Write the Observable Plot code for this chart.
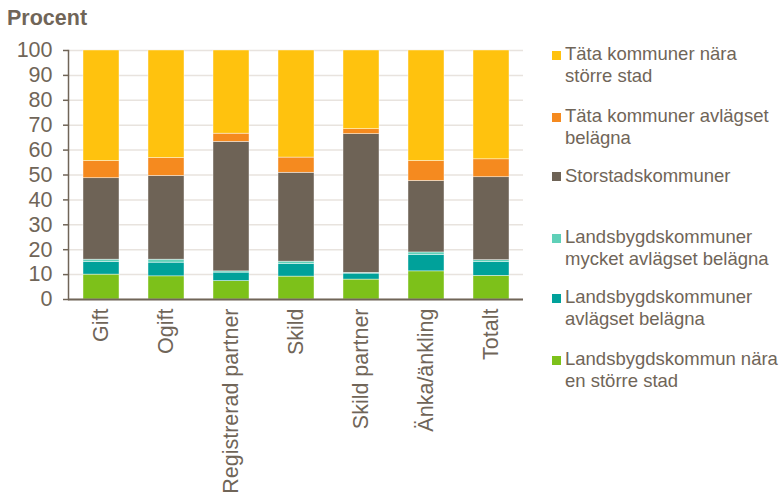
<!DOCTYPE html>
<html><head><meta charset="utf-8">
<script src="https://cdn.jsdelivr.net/npm/d3@7"></script>
<script src="https://cdn.jsdelivr.net/npm/@observablehq/plot@0.6"></script>
<style>
body{margin:0;background:#fff;font-family:"Liberation Sans",Arial,sans-serif;color:#706558;}
#wrap{position:relative;width:782px;height:495px;overflow:hidden}
#title{position:absolute;left:7px;top:8px;font-weight:bold;font-size:21.5px;line-height:20px}
#chart{position:absolute;left:0;top:30px}
.leg{position:absolute;left:552px;font-size:18.5px;line-height:21.5px;padding-left:13px;white-space:nowrap}
.sw{position:absolute;left:0;top:7.7px;width:9px;height:9px}
</style></head>
<body>
<div id="wrap">
<div id="title">Procent</div>
<div id="chart"></div>
<div id="legend"></div>
</div>
<script>
const categories = ["Gift","Ogift","Registrerad partner","Skild","Skild partner","Änka/änkling","Totalt"];
// series from bottom to top of the stack
const seriesNames = [
  "Landsbygdskommun nära en större stad",
  "Landsbygdskommuner avlägset belägna",
  "Landsbygdskommuner mycket avlägset belägna",
  "Storstadskommuner",
  "Täta kommuner avlägset belägna",
  "Täta kommuner nära större stad"
];
const seriesColors = ["#7dc11a","#00a19a","#5fd0b8","#6e6356","#f58a1f","#ffc20e"];
const landsbygdNara      = [10.0, 9.3, 7.4, 9.2, 8.0, 11.3, 9.5];
const landsbygdAvlagset  = [5.1, 5.5, 3.4, 5.1, 2.4, 6.6, 5.5];
const landsbygdMycket    = [0.9, 1.2, 0.5, 0.9, 0.3, 1.0, 0.8];
const storstad           = [32.7, 33.6, 52.0, 35.7, 55.7, 28.7, 33.3];
const tataAvlagset       = [6.9, 7.2, 3.3, 6.1, 2.0, 8.0, 7.2];
const tataNara           = [44.4, 43.2, 33.4, 43.0, 31.6, 44.4, 43.7];
const yTicks = [0,10,20,30,40,50,60,70,80,90,100];

// legend order (top to bottom) with line breaks
const legendItems = [
  {name: "Täta kommuner nära större stad", lines: ["Täta kommuner nära","större stad"], top: 43},
  {name: "Täta kommuner avlägset belägna", lines: ["Täta kommuner avlägset","belägna"], top: 105.4},
  {name: "Storstadskommuner", lines: ["Storstadskommuner"], top: 164.8},
  {name: "Landsbygdskommuner mycket avlägset belägna", lines: ["Landsbygdskommuner","mycket avlägset belägna"], top: 226.4},
  {name: "Landsbygdskommuner avlägset belägna", lines: ["Landsbygdskommuner","avlägset belägna"], top: 286.4},
  {name: "Landsbygdskommun nära en större stad", lines: ["Landsbygdskommun nära","en större stad"], top: 348}
];

const seriesValues = [landsbygdNara, landsbygdAvlagset, landsbygdMycket, storstad, tataAvlagset, tataNara];
const data = [];
seriesNames.forEach((s, i) => categories.forEach((c, j) => data.push({cat: c, series: s, value: seriesValues[i][j]})));

const ink = "#706558";
const plot = Plot.plot({
  width: 782,
  height: 465,
  marginLeft: 68,
  marginRight: 259,
  marginTop: 20,
  marginBottom: 196,
  style: {color: ink, fontFamily: '"Liberation Sans", Arial, sans-serif', fontSize: "21.5px", background: "transparent"},
  x: {domain: categories, paddingInner: 0.45, paddingOuter: 0.225, label: null},
  y: {domain: [0, 100], label: null},
  color: {domain: seriesNames, range: seriesColors},
  marks: [
    Plot.gridY(yTicks, {stroke: "#e8e3de", strokeOpacity: 1, strokeWidth: 1.5}),
    Plot.barY(data, {x: "cat", y: "value", fill: "series", z: "series", order: seriesNames, stroke: "#ffffff", strokeWidth: 0.6, strokeOpacity: 0.7}),
    Plot.axisY(yTicks, {tickSize: 5, tickPadding: 11, fontSize: 21.5, stroke: ink, strokeWidth: 1.5, label: null}),
    Plot.axisX({tickSize: 0, tickPadding: 9, tickRotate: -90, fontSize: 21.5, label: null}),
    Plot.frame({anchor: "left", stroke: ink, strokeWidth: 1.5}),
    Plot.ruleY([0], {stroke: ink, strokeWidth: 2})
  ]
});
document.getElementById("chart").appendChild(plot);

const leg = document.getElementById("legend");
legendItems.forEach(it => {
  const d = document.createElement("div");
  d.className = "leg";
  d.style.top = it.top + "px";
  const sw = document.createElement("span");
  sw.className = "sw";
  sw.style.background = seriesColors[seriesNames.indexOf(it.name)];
  d.appendChild(sw);
  it.lines.forEach((l, k) => {
    if (k) d.appendChild(document.createElement("br"));
    d.appendChild(document.createTextNode(l));
  });
  leg.appendChild(d);
});
</script>
</body></html>
